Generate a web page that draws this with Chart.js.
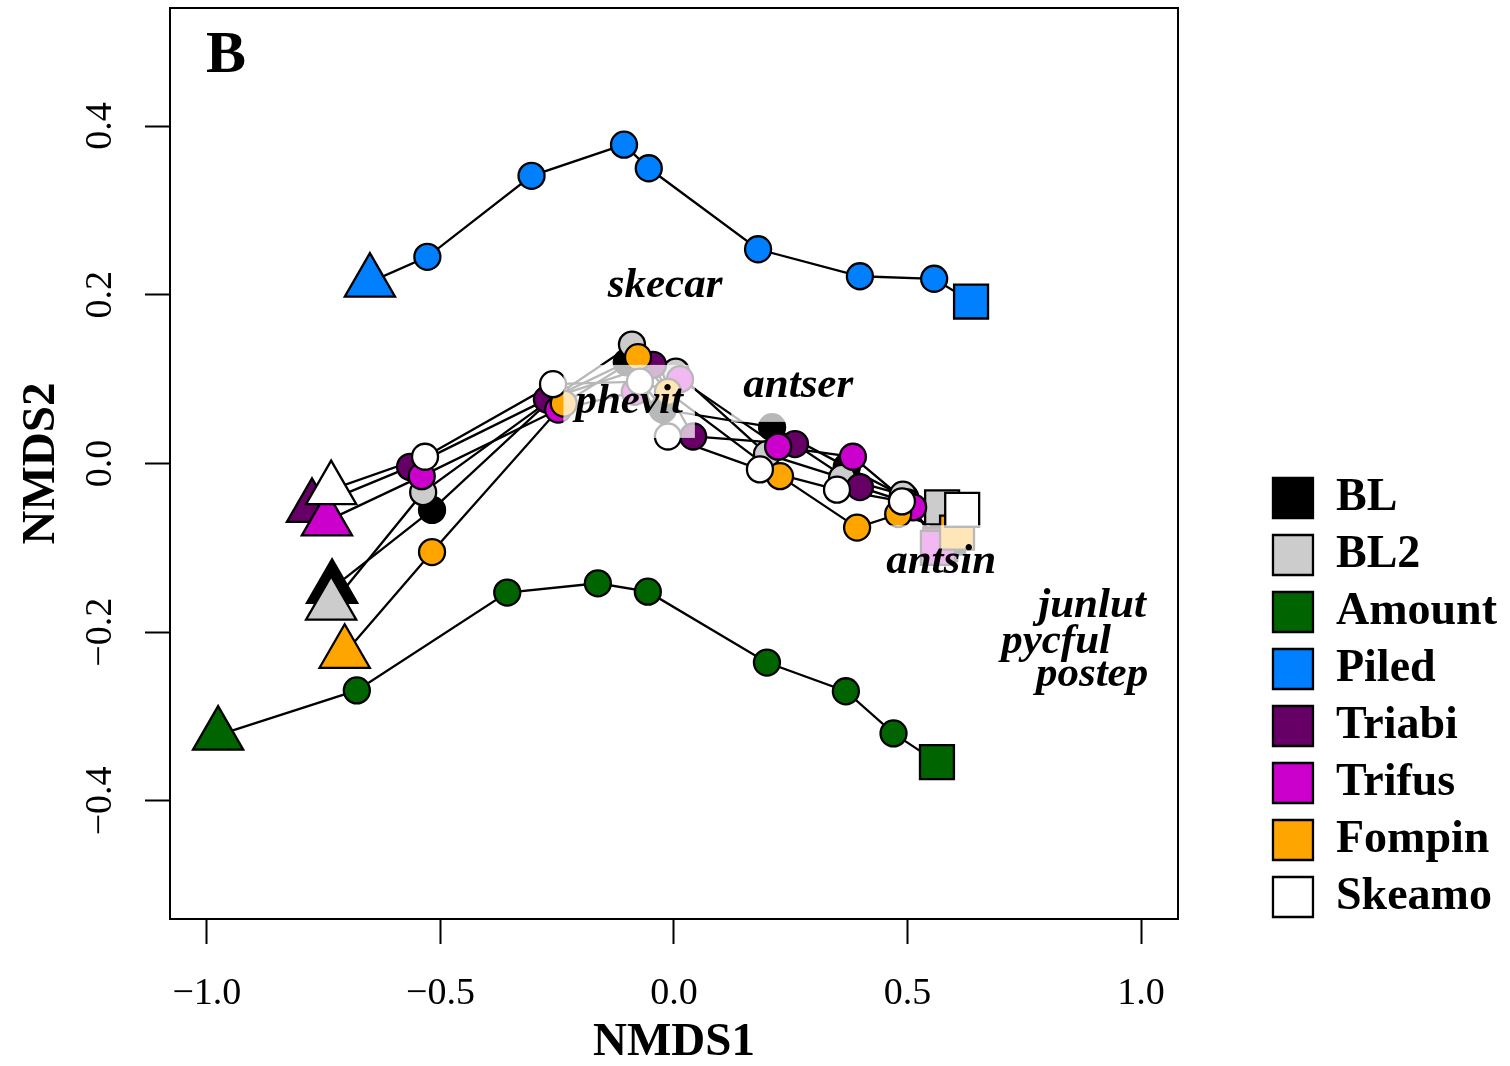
<!DOCTYPE html>
<html>
<head>
<meta charset="utf-8">
<script src="https://cdn.jsdelivr.net/npm/chart.js@4.4.1/dist/chart.umd.min.js"></script>
<style>
  html, body { margin: 0; padding: 0; background: #fff; }
</style>
</head>
<body>
<canvas id="nmds" width="1510" height="1066"></canvas>
<script>
var seriesNames = ["BL", "BL2", "Amount", "Piled", "Triabi", "Trifus", "Fompin", "Skeamo"];
var seriesColors = ["#000000", "#CCCCCC", "#006400", "#0080FF", "#660066", "#CC00CC", "#FFA500", "#FFFFFF"];

// NMDS scores, 9 sampling times per treatment (first = triangle, last = square)
var blX = [-0.732, -0.518, -0.259, -0.101, -0.024, 0.210, 0.370, 0.495, 0.587];
var blY = [-0.148, -0.055, 0.078, 0.120, 0.064, 0.043, -0.004, -0.040, -0.088];
var bl2X = [-0.734, -0.537, -0.251, -0.090, 0.004, 0.199, 0.360, 0.490, 0.574];
var bl2Y = [-0.168, -0.034, 0.081, 0.141, 0.109, 0.011, -0.017, -0.037, -0.052];
var amountX = [-0.976, -0.679, -0.357, -0.163, -0.056, 0.199, 0.368, 0.470, 0.563];
var amountY = [-0.322, -0.269, -0.153, -0.142, -0.152, -0.236, -0.270, -0.320, -0.354];
var piledX = [-0.651, -0.528, -0.305, -0.107, -0.054, 0.180, 0.398, 0.557, 0.636];
var piledY = [0.215, 0.245, 0.341, 0.378, 0.350, 0.254, 0.222, 0.219, 0.192];
var triabiX = [-0.775, -0.565, -0.272, -0.045, 0.041, 0.259, 0.398, 0.499, 0.570];
var triabiY = [-0.052, -0.004, 0.076, 0.117, 0.032, 0.023, -0.028, -0.046, -0.096];
var trifusX = [-0.743, -0.540, -0.248, -0.084, 0.013, 0.223, 0.383, 0.512, 0.565];
var trifusY = [-0.068, -0.015, 0.064, 0.085, 0.100, 0.020, 0.008, -0.052, -0.100];
var fompinX = [-0.705, -0.518, -0.236, -0.077, -0.013, 0.227, 0.392, 0.480, 0.606];
var fompinY = [-0.225, -0.105, 0.071, 0.126, 0.085, -0.015, -0.076, -0.060, -0.082];
var skeamoX = [-0.734, -0.533, -0.259, -0.073, -0.013, 0.184, 0.349, 0.488, 0.617];
var skeamoY = [-0.031, 0.008, 0.094, 0.097, 0.032, -0.007, -0.031, -0.045, -0.055];

// species scores
var spNames = ["skecar", "antser", "phevit", "antsin", "junlut", "pycful", "postep"];
var spX = [-0.019, 0.266, -0.096, 0.572, 0.895, 0.818, 0.895];
var spY = [0.210, 0.092, 0.073, -0.117, -0.169, -0.211, -0.251];

var xTicks = [-1.0, -0.5, 0.0, 0.5, 1.0];
var yTicks = [-0.4, -0.2, 0.0, 0.2, 0.4];

var allX = [blX, bl2X, amountX, piledX, triabiX, trifusX, fompinX, skeamoX];
var allY = [blY, bl2Y, amountY, piledY, triabiY, trifusY, fompinY, skeamoY];

var FONT = "'Liberation Serif', 'Times New Roman', serif";
var shapes = ["triangle", "circle", "circle", "circle", "circle", "circle", "circle", "circle", "rect"];
var sizes = [29, 13, 13, 13, 13, 13, 13, 13, 24];

function pts(i) {
    return allX[i].map(function (x, j) { return { x: x, y: allY[i][j] }; });
}

var datasets = [];
seriesNames.forEach(function (name, i) {
    datasets.push({
        label: name + " path",
        isPath: true,
        data: pts(i),
        showLine: true,
        borderColor: "#000",
        borderWidth: 2.3,
        pointRadius: 0,
        order: 100
    });
    datasets.push({
        label: name,
        data: pts(i),
        showLine: false,
        backgroundColor: seriesColors[i],
        borderColor: "#000",
        borderWidth: 2,
        pointBackgroundColor: seriesColors[i],
        pointBorderColor: "#000",
        pointBorderWidth: 2.3,
        pointStyle: shapes,
        pointRadius: sizes,
        pointHoverRadius: sizes,
        order: 20 - i
    });
});

function fmt(v) {
    if (Math.abs(v) < 1e-9) return "0.0";
    return v.toFixed(1).replace("-", "\u2212");
}

var labelPlugin = {
    id: "speciesLabels",
    afterDatasetsDraw: function (chart) {
        var ctx = chart.ctx;
        var sx = chart.scales.x, sy = chart.scales.y;
        ctx.save();
        ctx.font = "italic bold 43px " + FONT;
        var boxes = spNames.map(function (name, i) {
            var w = ctx.measureText(name).width;
            return { name: name, x: sx.getPixelForValue(spX[i]), y: sy.getPixelForValue(spY[i]), w: w };
        });
        // translucent white boxes behind the labels
        ctx.fillStyle = "rgba(255,255,255,0.72)";
        boxes.forEach(function (b) {
            ctx.fillRect(b.x - b.w / 2 - 12, b.y - 37, b.w + 24, 73);
        });
        ctx.fillStyle = "#000";
        ctx.textAlign = "center";
        ctx.textBaseline = "middle";
        boxes.forEach(function (b) {
            ctx.fillText(b.name, b.x, b.y);
        });
        ctx.font = "bold 60px " + FONT;
        ctx.fillText("B", chart.chartArea.left + 56, chart.chartArea.top + 48);
        ctx.restore();
    }
};

var frameAxis = {
    ticks: { display: false },
    grid: { drawOnChartArea: false, drawTicks: false },
    border: { display: true, color: "#000", width: 2 }
};

new Chart(document.getElementById("nmds"), {
    type: "scatter",
    data: { datasets: datasets },
    plugins: [labelPlugin],
    options: {
        responsive: false,
        devicePixelRatio: 1,
        animation: false,
        layout: { autoPadding: false, padding: { left: 0, right: 3, top: 0, bottom: 0 } },
        plugins: {
            tooltip: { enabled: false },
            legend: {
                position: "right",
                align: "start",
                title: { display: true, text: " ", font: { size: 10, lineHeight: 1 }, padding: { top: 454, bottom: 0 } },
                labels: {
                    boxWidth: 40,
                    boxHeight: 40,
                    padding: 11,
                    color: "#000",
                    font: { family: FONT, size: 46, weight: "bold" },
                    sort: function (a, b) { return a.datasetIndex - b.datasetIndex; },
                    filter: function (item, data) {
                        return !data.datasets[item.datasetIndex].isPath;
                    }
                }
            }
        },
        scales: {
            x: {
                type: "linear",
                position: "bottom",
                min: -1.079,
                max: 1.079,
                bounds: "data",
                afterFit: function (s) { s.height = 147; s.paddingLeft = 0; s.paddingRight = 0; },
                afterBuildTicks: function (s) { s.ticks = xTicks.map(function (v) { return { value: v }; }); },
                ticks: { padding: 27, color: "#000", font: { family: FONT, size: 38 }, callback: fmt },
                grid: { drawOnChartArea: false, drawTicks: true, tickLength: 25, tickWidth: 2, tickColor: "#000", color: "#000" },
                border: { display: true, color: "#000", width: 2 },
                title: { display: true, text: "NMDS1", color: "#000", font: { family: FONT, size: 47, weight: "bold", lineHeight: 1 }, padding: { top: 0, bottom: 0 } }
            },
            y: {
                type: "linear",
                position: "left",
                min: -0.54,
                max: 0.54,
                bounds: "data",
                afterFit: function (s) { s.width = 170; s.paddingTop = 0; s.paddingBottom = 0; },
                afterBuildTicks: function (s) { s.ticks = yTicks.map(function (v) { return { value: v }; }); },
                ticks: { minRotation: 90, maxRotation: 90, crossAlign: "center", padding: 10, color: "#000", font: { family: FONT, size: 38 }, callback: fmt },
                grid: { drawOnChartArea: false, drawTicks: true, tickLength: 25, tickWidth: 2, tickColor: "#000", color: "#000" },
                border: { display: true, color: "#000", width: 2 },
                title: { display: true, text: "NMDS2", color: "#000", font: { family: FONT, size: 47, weight: "bold", lineHeight: 1 }, padding: { top: 18, bottom: 0 } }
            },
            x2: Object.assign({ type: "linear", position: "top", min: -1.079, max: 1.079, afterFit: function (s) { s.height = 8; } }, frameAxis),
            y2: Object.assign({ type: "linear", position: "right", min: -0.54, max: 0.54, afterFit: function (s) { s.width = 84; } }, frameAxis)
        }
    }
});
</script>
</body>
</html>
